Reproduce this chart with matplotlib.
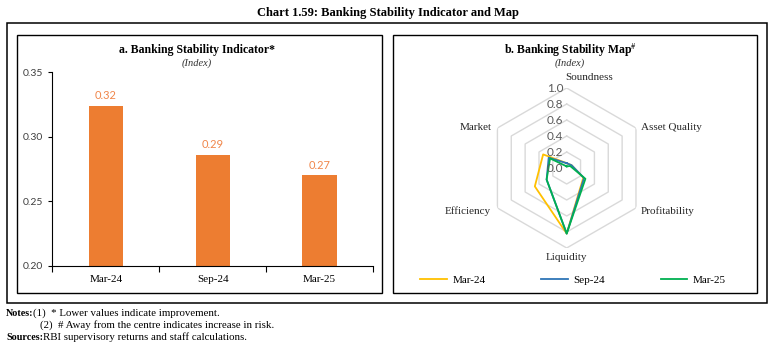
import matplotlib
matplotlib.use("Agg")
import matplotlib.pyplot as plt
import numpy as np
from matplotlib.patches import Rectangle

# ---- data ----
periods = ["Mar-24", "Sep-24", "Mar-25"]
bsi_values = [0.324, 0.286, 0.270]

dimensions = ["Soundness", "Asset Quality", "Profitability", "Liquidity", "Efficiency", "Market"]
map_mar24 = [0.06, 0.07, 0.24, 0.82, 0.46, 0.34]
map_sep24 = [0.06, 0.07, 0.25, 0.82, 0.29, 0.26]
map_mar25 = [0.02, 0.05, 0.27, 0.82, 0.29, 0.24]
ring_levels = [0.0, 0.2, 0.4, 0.6, 0.8, 1.0]

SERIF = "Liberation Serif"
SANS = "Lato"

plt.rcParams["mathtext.fontset"] = "stix"

W, H = 775, 348
fig = plt.figure(figsize=(W / 100, H / 100), dpi=100)


def fx(x):
    return x / W


def fy(y):
    return 1 - y / H


def box(x0, y0, x1, y1, lw=1.0):
    fig.add_artist(Rectangle((fx(x0), fy(y1)), fx(x1) - fx(x0), fy(y0) - fy(y1),
                             transform=fig.transFigure, fill=False,
                             edgecolor="black", linewidth=lw))


# frames
box(7, 23, 767, 303, lw=1.1)
box(17, 35, 382, 293, lw=1.0)
box(393, 35, 757, 293, lw=1.0)

fig.text(0.5, fy(13), "Chart 1.59: Banking Stability Indicator and Map",
         ha="center", va="center", fontsize=9, fontweight="bold", family=SERIF)

# ---- panel a: bar chart ----
fig.text(fx(197), fy(50), "a. Banking Stability Indicator*", ha="center", va="center",
         fontsize=8.5, fontweight="bold", family=SERIF)
fig.text(fx(197), fy(63), "(Index)", ha="center", va="center",
         fontsize=7.5, style="italic", family=SERIF, color="#333333")

ax1 = fig.add_axes([fx(52.3), fy(265.7), 320.7 / W, (265.7 - 72.3) / H])
x = np.arange(len(periods))
ax1.bar(x, bsi_values, width=0.32, color="#ED7D31", zorder=2)
ax1.set_ylim(0.20, 0.35)
ax1.set_xlim(-0.5, len(periods) - 0.5)
ax1.set_yticks([0.20, 0.25, 0.30, 0.35])
ax1.set_yticklabels([f"{v:.2f}" for v in [0.20, 0.25, 0.30, 0.35]],
                    family=SANS, fontsize=7.5, color="#404040")
ax1.set_xticks(np.arange(-0.5, len(periods), 1.0))
ax1.set_xticklabels([])
ax1.set_xticks(x, minor=True)
ax1.set_xticklabels(periods, minor=True, family=SERIF, fontsize=8)
ax1.tick_params(axis="x", which="major", direction="out", length=4, width=0.8)
ax1.tick_params(axis="x", which="minor", length=0, pad=6.5)
ax1.tick_params(axis="y", direction="out", length=3, width=0.8, pad=3.5)
for s in ["top", "right"]:
    ax1.spines[s].set_visible(False)
for s in ["left", "bottom"]:
    ax1.spines[s].set_linewidth(0.8)
ax1.patch.set_alpha(0)
for xi, v in zip(x, bsi_values):
    ax1.annotate(f"{v:.2f}", xy=(xi, v), xytext=(0, 7.5), textcoords="offset points",
                 ha="center", va="center", fontsize=8, family=SANS, color="#F0864A")

# ---- panel b: radar ----
fig.text(fx(570), fy(50), r"b. Banking Stability Map$^{\#}$", ha="center", va="center",
         fontsize=8.5, fontweight="bold", family=SERIF)
fig.text(fx(570), fy(63), "(Index)", ha="center", va="center",
         fontsize=7.5, style="italic", family=SERIF, color="#333333")

cx, cy, R = 566.7, 168.0, 80.0
ax2 = fig.add_axes([fx(cx - R), fy(cy + R), 2 * R / W, 2 * R / H], projection="polar")
ax2.set_theta_offset(np.pi / 2)
ax2.set_theta_direction(-1)
ax2.set_ylim(0, 1)
ax2.grid(False)
ax2.spines["polar"].set_visible(False)
ax2.set_xticks([])
ax2.set_yticks([])
ax2.patch.set_alpha(0)

angles = np.linspace(0, 2 * np.pi, len(dimensions), endpoint=False)
closed = np.append(angles, angles[0])
for level in ring_levels[1:]:
    ax2.plot(closed, [level] * len(closed), color="#D9D9D9", lw=1.0, zorder=1)

series = [("Mar-24", map_mar24, "#FFC000"),
          ("Sep-24", map_sep24, "#2E75B6"),
          ("Mar-25", map_mar25, "#00B050")]
for label, vals, color in series:
    ax2.plot(closed, vals + vals[:1], color=color, lw=1.3, label=label, zorder=3)

for level in ring_levels:
    ax2.annotate(f"{level:.1f}", xy=(0, level), xytext=(-11.7, 0), textcoords="offset pixels",
                 ha="center", va="center", fontsize=8.5, family=SANS, color="#595959",
                 annotation_clip=False, zorder=4)

label_offsets = {
    "Soundness": ((22, 10), "center"),
    "Asset Quality": ((4.7, 1), "left"),
    "Profitability": ((4.7, -2.7), "left"),
    "Liquidity": ((0, -9.7), "center"),
    "Efficiency": ((-6.4, -3), "right"),
    "Market": ((-5.7, 1), "right"),
}
for ang, name in zip(angles, dimensions):
    off, ha = label_offsets[name]
    ax2.annotate(name, xy=(ang, 1.0), xytext=off, textcoords="offset pixels",
                 ha=ha, va="center", fontsize=8, family=SERIF, color="#262626",
                 annotation_clip=False)

ax2.legend(loc="center", bbox_to_anchor=(fx(573), fy(280)), bbox_transform=fig.transFigure,
           ncol=3, frameon=False, handlelength=2.4, handletextpad=0.5, columnspacing=5.0,
           prop={"family": SERIF, "size": 8})

# ---- notes ----
fs_bold = 7.3
fs = 7.8
fig.text(fx(6), fy(313), "Notes:", ha="left", va="center", fontsize=fs_bold, fontweight="bold", family=SERIF)
fig.text(fx(33), fy(313), "(1)  * Lower values indicate improvement.", ha="left", va="center",
         fontsize=fs, family=SERIF)
fig.text(fx(40), fy(325), "(2)  # Away from the centre indicates increase in risk.", ha="left",
         va="center", fontsize=fs, family=SERIF)
fig.text(fx(6), fy(337), "Sources:", ha="left", va="center", fontsize=fs_bold, fontweight="bold", family=SERIF)
fig.text(fx(43), fy(337), "RBI supervisory returns and staff calculations.", ha="left", va="center",
         fontsize=fs, family=SERIF)

fig.savefig("out.png", dpi=100)
